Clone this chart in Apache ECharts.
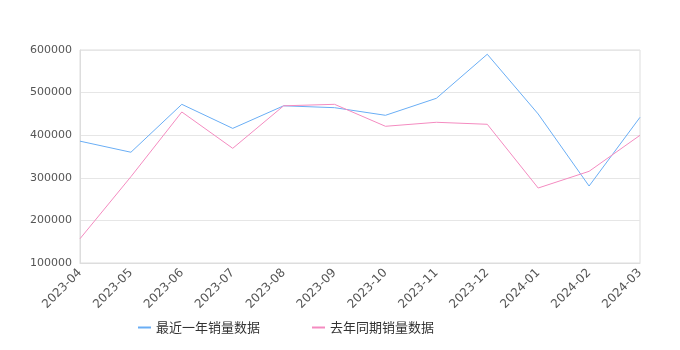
<!DOCTYPE html>
<html><head><meta charset="utf-8">
<script src="https://cdn.jsdelivr.net/npm/echarts@6/dist/echarts.min.js"></script>
<style>html,body{margin:0;padding:0;background:#fff}#c{width:680px;height:350px}</style>
</head><body><div id="c"></div>
<script>
var categories = ['2023-04','2023-05','2023-06','2023-07','2023-08','2023-09','2023-10','2023-11','2023-12','2024-01','2024-02','2024-03'];
var recentYear = [386000,360000,472500,416000,469000,464600,446700,486600,590000,449800,280700,442000];
var lastYear = [157000,302600,454500,369200,469000,472500,420900,430300,425600,276000,315200,399800];
var seriesNames = ['最近一年销量数据','去年同期销量数据'];

var chart = echarts.init(document.getElementById('c'), null, {renderer:'canvas'});
chart.setOption({
  animation:false,
  color:['#6aaef5','#f48bc0'],
  grid:{left:80,right:40,top:50,bottom:87,show:true,borderColor:'#ddd',borderWidth:1},
  legend:{bottom:11,left:133,itemWidth:13,itemHeight:2,itemGap:52,icon:'rect',
    textStyle:{fontSize:13,color:'#333',fontFamily:'Noto Sans CJK SC'},
    data:seriesNames},
  xAxis:{type:'category',data:categories,boundaryGap:false,
    axisLine:{lineStyle:{color:'#ddd'}},axisTick:{show:false},
    axisLabel:{rotate:45,color:'#555',fontSize:12,fontFamily:'DejaVu Sans',margin:8}},
  yAxis:{type:'value',min:100000,max:600000,interval:100000,
    axisLine:{show:true,lineStyle:{color:'#ddd'}},
    splitLine:{lineStyle:{color:'#e6e6e6'}},
    axisLabel:{color:'#555',fontSize:11,fontFamily:'DejaVu Sans',margin:8,formatter:function(v){return String(v);}}},
  series:[
    {name:seriesNames[0],type:'line',data:recentYear,symbol:'none',lineStyle:{width:1}},
    {name:seriesNames[1],type:'line',data:lastYear,symbol:'none',lineStyle:{width:1}}
  ]
});
</script></body></html>
